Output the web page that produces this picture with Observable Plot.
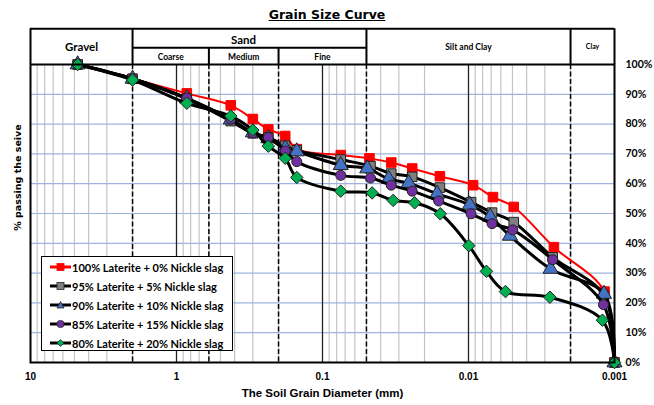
<!DOCTYPE html>
<html><head><meta charset="utf-8">
<script src="https://cdn.jsdelivr.net/npm/d3@7"></script>
<script src="https://cdn.jsdelivr.net/npm/@observablehq/plot@0.6"></script>
<style>
body{margin:0;background:#fff;}
#wrap{position:relative;width:654px;height:405px;overflow:hidden;background:#fff;}
#title{position:absolute;left:0;top:7px;width:654px;text-align:center;font:bold 12.5px "DejaVu Sans",sans-serif;line-height:15px;}
#title span{text-decoration:underline;}
#legend{position:absolute;left:41px;top:256px;width:190px;height:93px;border:1.5px solid #000;background:#fff;}
.lg{position:absolute;left:8px;height:19px;display:flex;align-items:center;font:bold 11px Lato,sans-serif;color:#000;white-space:nowrap;}
.lg svg{margin-right:1px;}
</style></head><body>
<div id="wrap"><div id="title"><span>Grain Size Curve</span></div></div>
<script>
// ---------- data ----------
const seriesNames = [
  "100% Laterite + 0% Nickle slag",
  "95% Laterite + 5% Nickle slag",
  "90% Laterite + 10% Nickle slag",
  "85% Laterite + 15% Nickle slag",
  "80% Laterite + 20% Nickle slag"
];
// sieve sizes (mm)
const sieveSizes = [4.75, 2.0, 0.85, 0.425, 0.3, 0.235, 0.18, 0.15, 0.075];
// % passing for each sieve
const sievePass100 = [100, 95.2, 90.3, 86.3, 81.7, 78.2, 76.0, 71.6, 69.6];
const sievePass95  = [100, 95.2, 88.5, 81.0, 76.9, 75.5, 72.7, 71.2, 68.1];
const sievePass90  = [100, 95.2, 88.6, 81.5, 77.2, 75.2, 71.8, 70.8, 66.2];
const sievePass85  = [100, 95.2, 88.7, 81.6, 77.0, 75.5, 71.0, 67.4, 62.8];
const sievePass80  = [100, 94.8, 87.0, 82.7, 78.0, 72.6, 68.5, 62.1, 57.5];
// hydrometer diameters (mm) and % passing
const hydroD100 = [0.0477, 0.0338, 0.0243, 0.0157, 0.0093, 0.0068, 0.0049, 0.0026, 0.00117, 0.001];
const hydroP100 = [68.5, 67.1, 65.1, 62.5, 59.5, 55.5, 52.2, 38.7, 23.8, 0];
const hydroD95  = [0.0469, 0.0338, 0.0243, 0.0157, 0.0096, 0.0069, 0.0049, 0.00265, 0.00118, 0.001];
const hydroP95  = [65.9, 63.4, 62.3, 58.7, 53.8, 50.3, 47.1, 35.3, 22.5, 0];
const hydroD90  = [0.0494, 0.0352, 0.0257, 0.0164, 0.0098, 0.0071, 0.0052, 0.00274, 0.00118, 0.001];
const hydroP90  = [65.1, 61.6, 60.2, 56.6, 52.9, 48.9, 42.5, 31.4, 23.0, 0];
const hydroD85  = [0.0469, 0.0338, 0.0243, 0.016, 0.0096, 0.0069, 0.00498, 0.00265, 0.00119, 0.001];
const hydroP85  = [61.9, 59.5, 57.5, 54.2, 49.9, 46.6, 44.5, 34.5, 19.4, 0];
const hydroD80  = [0.0457, 0.0328, 0.0234, 0.0156, 0.00995, 0.00754, 0.00558, 0.00277, 0.00121, 0.001];
const hydroP80  = [56.9, 54.4, 53.6, 49.9, 39.2, 30.6, 23.8, 21.9, 14.2, 0];

const xTicks = [10, 1, 0.1, 0.01, 0.001];
const yTicks = [0, 10, 20, 30, 40, 50, 60, 70, 80, 90, 100];
const classBounds = [2, 0.6, 0.2, 0.05, 0.002];      // mm
const mainColumns = [["Gravel", 10, 2], ["Silt and Clay", 0.05, 0.002], ["Clay", 0.002, 0.001]];
const sandColumn = ["Sand", 2, 0.05];
const sandSubColumns = [["Coarse", 2, 0.6], ["Medium", 0.6, 0.2], ["Fine", 0.2, 0.05]];

// ---------- styles ----------
const diamond = {draw(ctx, size) { const h = Math.sqrt(size / Math.PI) * 1.25; ctx.moveTo(0, -h); ctx.lineTo(h, 0); ctx.lineTo(0, h); ctx.lineTo(-h, 0); ctx.closePath(); }};
const styles = [
  {line: "#ff0000", lw: 2, fill: "#ff0000", stroke: "#ff0000", symbol: "square", r: 5.4},
  {line: "#000000", lw: 3, fill: "#7f7f7f", stroke: "#222", symbol: "square", r: 5.4},
  {line: "#000000", lw: 3, fill: "#4472c4", stroke: "#222", symbol: "triangle", r: 5.6},
  {line: "#000000", lw: 3, fill: "#7030a0", stroke: "#222", symbol: "circle", r: 5},
  {line: "#000000", lw: 3, fill: "#00b050", stroke: "#222", symbol: diamond, r: 5}
];

const passArrays = [[sievePass100, hydroD100, hydroP100], [sievePass95, hydroD95, hydroP95], [sievePass90, hydroD90, hydroP90], [sievePass85, hydroD85, hydroP85], [sievePass80, hydroD80, hydroP80]];
const seriesData = passArrays.map(([sp, hd, hp], i) => [
  ...sieveSizes.map((d, j) => ({series: seriesNames[i], d, p: sp[j]})),
  ...hd.map((d, j) => ({series: seriesNames[i], d, p: hp[j]}))
]);

const minorGrid = [];
for (const base of [1, 0.1, 0.01, 0.001]) for (let k = 2; k <= 9; k++) minorGrid.push(+(k * base).toPrecision(3));

const headerTop = 112, headerMid = 105.6;
const gm = (a, b) => Math.sqrt(a * b);

const seriesMarks = [];
seriesData.forEach((data, i) => {
  const s = styles[i];
  seriesMarks.push(Plot.line(data, {x: "d", y: "p", stroke: s.line, strokeWidth: s.lw, curve: "catmull-rom", strokeLinejoin: "round"}));
  seriesMarks.push(Plot.dot(data, {x: "d", y: "p", symbol: s.symbol, r: s.r, fill: s.fill, stroke: s.stroke, strokeWidth: 1}));
});

const chart = Plot.plot({
  width: 654, height: 405,
  marginLeft: 30, marginRight: 40, marginTop: 64, marginBottom: 43,
  style: {fontFamily: "Lato, sans-serif", background: "transparent", overflow: "visible"},
  x: {type: "log", domain: [10, 0.001]},
  y: {domain: [0, 100]},
  marks: [
    Plot.ruleX(minorGrid, {stroke: "#c4c4c4", strokeWidth: 1.2}),
    Plot.ruleY(yTicks.filter(v => v > 0 && v < 100), {stroke: "#9db4e0", strokeWidth: 1.2}),
    Plot.ruleX(xTicks.slice(1, 4), {stroke: "#222", strokeWidth: 1.3}),
    Plot.ruleX(classBounds, {stroke: "#000", strokeWidth: 1.5, strokeDasharray: "5,2.5"}),
    // header table
    Plot.ruleY([headerTop], {x1: 10, x2: 0.001, stroke: "#000", strokeWidth: 2}),
    Plot.ruleY([headerMid], {x1: sandColumn[1], x2: sandColumn[2], stroke: "#000", strokeWidth: 2}),
    Plot.ruleX([10, 2, 0.05, 0.002, 0.001], {y1: 100, y2: headerTop, stroke: "#000", strokeWidth: 2}),
    Plot.ruleX([0.6, 0.2], {y1: 100, y2: headerMid, stroke: "#000", strokeWidth: 2}),
    Plot.text([mainColumns[0]], {x: d => gm(d[1], d[2]), y: (100 + headerTop) / 2, text: d => d[0], fontWeight: "bold", fontSize: 11.5, dy: 0.7}),
    Plot.text([mainColumns[1]], {x: d => gm(d[1], d[2]), y: (100 + headerTop) / 2, text: d => d[0], fontWeight: "bold", fontSize: 8.5, dy: 1}),
    Plot.text([mainColumns[2]], {x: d => gm(d[1], d[2]), y: (100 + headerTop) / 2, text: d => d[0], fontWeight: "bold", fontSize: 7, dy: 0}),
    Plot.text([sandColumn], {x: d => gm(d[1], d[2]), y: (headerMid + headerTop) / 2, text: d => d[0], fontWeight: "bold", fontSize: 11.5, dy: 2.5, dx: -6}),
    Plot.text(sandSubColumns, {x: d => gm(d[1], d[2]), y: (100 + headerMid) / 2, text: d => d[0], fontWeight: "bold", fontSize: 8.5, dy: 1.5}),
    ...seriesMarks,
    Plot.frame({stroke: "#000", strokeWidth: 2}),
    Plot.axisX({ticks: xTicks, tickFormat: d => String(d), tickSize: 0, tickPadding: 10, fontWeight: "bold", fontSize: 10, fontFamily: "Liberation Sans, Arial, sans-serif", label: null}),
    Plot.axisY({anchor: "right", ticks: yTicks, tickFormat: d => d + "%", tickSize: 0, tickPadding: 11, fontWeight: "bold", fontSize: 10.5, label: null}),
    Plot.text(["The Soil Grain Diameter (mm)"], {frameAnchor: "bottom", dy: 34, fontWeight: "bold", fontSize: 11.5, fontFamily: "Liberation Sans, Arial, sans-serif"}),
    Plot.text(["% passing the seive"], {frameAnchor: "left", textAnchor: "middle", dx: -13, dy: -36, rotate: -90, fontWeight: "bold", fontSize: 9.5, fontFamily: "DejaVu Sans, sans-serif"})
  ]
});
const wrap = document.getElementById("wrap");
chart.style.position = "absolute"; chart.style.left = "0"; chart.style.top = "0";
wrap.insertBefore(chart, wrap.firstChild);

// legend
const legend = document.createElement("div");
legend.id = "legend";
const symSvg = (i) => {
  const s = styles[i];
  let m;
  if (i === 0 || i === 1) m = `<rect x="7" y="1.5" width="7" height="7" fill="${s.fill}" stroke="${s.stroke}" stroke-width="0.8"/>`;
  else if (i === 2) m = `<path d="M10.5,1.5 L14,8 L7,8 Z" fill="${s.fill}" stroke="${s.stroke}" stroke-width="0.8"/>`;
  else if (i === 3) m = `<circle cx="10.5" cy="5" r="3.6" fill="${s.fill}" stroke="${s.stroke}" stroke-width="0.8"/>`;
  else m = `<path d="M10.5,1.5 L14,5 L10.5,8.5 L7,5 Z" fill="${s.fill}" stroke="${s.stroke}" stroke-width="0.8"/>`;
  return `<svg width="21" height="10"><line x1="0" x2="21" y1="5" y2="5" stroke="${s.line}" stroke-width="3"/>${m}</svg>`;
};
seriesNames.forEach((name, i) => {
  const row = document.createElement("div");
  row.className = "lg";
  row.style.top = (0.5 + i * 19) + "px";
  row.innerHTML = symSvg(i) + `<span>${name}</span>`;
  legend.appendChild(row);
});
wrap.appendChild(legend);
</script>
</body></html>
